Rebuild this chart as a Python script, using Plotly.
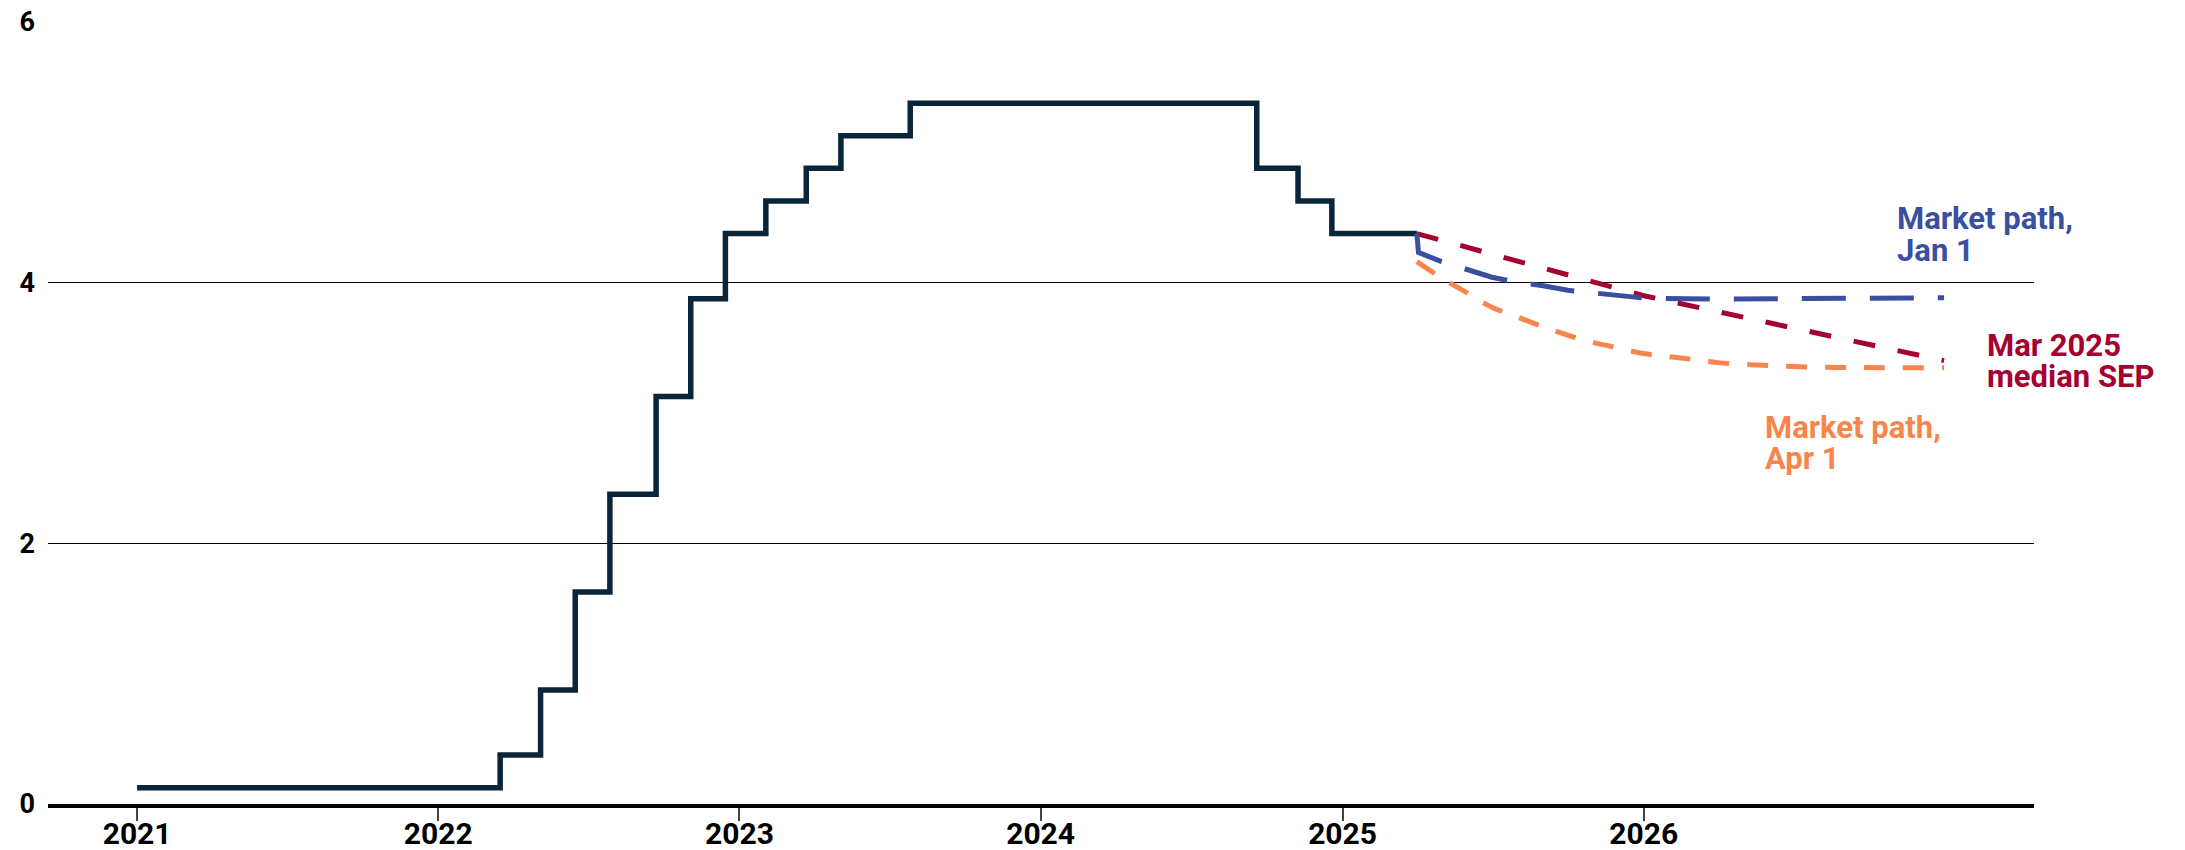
import plotly.graph_objects as go

# ---- Data ----
# Federal funds target range midpoint (step path)
hist_dates = ["2021-01-01", "2022-03-17", "2022-05-05", "2022-06-16", "2022-07-28",
              "2022-09-22", "2022-11-03", "2022-12-15", "2023-02-02", "2023-03-23",
              "2023-05-04", "2023-07-27", "2024-09-19", "2024-11-08", "2024-12-19",
              "2025-04-01"]
hist_values = [0.125, 0.375, 0.875, 1.625, 2.375, 3.125, 3.875, 4.375, 4.625, 4.875,
               5.125, 5.375, 4.875, 4.625, 4.375, 4.375]

# Market path, Jan 1
jan_dates = ["2025-04-01", "2025-04-03", "2025-05-01", "2025-06-01", "2025-07-01",
             "2025-08-01", "2025-09-01", "2025-10-01", "2025-11-01", "2025-12-01",
             "2026-01-01", "2026-04-01", "2026-07-01", "2026-10-01", "2026-12-31"]
jan_values = [4.375, 4.23, 4.16, 4.10, 4.04, 4.00, 3.975, 3.94, 3.92, 3.90,
              3.88, 3.872, 3.875, 3.88, 3.883]

# Mar 2025 median SEP
sep_dates = ["2025-04-01", "2025-12-31", "2026-12-31"]
sep_values = [4.375, 3.9, 3.4]

# Market path, Apr 1
apr_dates = ["2025-04-01", "2025-05-01", "2025-06-01", "2025-07-01", "2025-08-01",
             "2025-09-01", "2025-10-01", "2025-11-01", "2025-12-01", "2026-01-01",
             "2026-02-01", "2026-03-01", "2026-04-01", "2026-06-01", "2026-08-01",
             "2026-10-01", "2026-12-31"]
apr_values = [4.16, 4.035, 3.92, 3.81, 3.735, 3.66, 3.595, 3.54, 3.497, 3.455,
              3.43, 3.41, 3.385, 3.363, 3.35, 3.347, 3.346]

x_tick_vals = ["2021-01-01", "2022-01-01", "2023-01-01", "2024-01-01", "2025-01-01", "2026-01-01"]
x_tick_text = ["2021", "2022", "2023", "2024", "2025", "2026"]
y_tick_vals = [0, 2, 4, 6]

NAVY = "#0b2538"
BLUE = "#3b4f9f"
RED = "#a50030"
ORANGE = "#f8854c"
FONT = "Roboto"

fig = go.Figure()
fig.add_trace(go.Scatter(x=hist_dates, y=hist_values, mode="lines", line_shape="hv",
                         line=dict(color=NAVY, width=5.5), hoverinfo="skip"))
fig.add_trace(go.Scatter(x=apr_dates, y=apr_values, mode="lines", line_shape="spline",
                         line=dict(color=ORANGE, width=5, dash="21px,18px"), hoverinfo="skip"))
fig.add_trace(go.Scatter(x=sep_dates, y=sep_values, mode="lines",
                         line=dict(color=RED, width=5, dash="22px,23px"), hoverinfo="skip"))
fig.add_trace(go.Scatter(x=jan_dates, y=jan_values, mode="lines",
                         line=dict(color=BLUE, width=5, dash="44px,24px"), hoverinfo="skip"))

def label(text, xp, yv, color):
    fig.add_annotation(text=text, xref="paper", yref="y", x=xp, y=yv,
                       xanchor="left", yanchor="middle", showarrow=False, borderpad=0,
                       font=dict(family=FONT, size=31, color=color, weight="bold"))

label("Market path,", 0.9305, 4.494, BLUE)
label("Jan 1", 0.9305, 4.245, BLUE)
label("Mar 2025", 0.9758, 3.514, RED)
label("median SEP", 0.9758, 3.275, RED)
label("Market path,", 0.8642, 2.884, ORANGE)
label("Apr 1", 0.8642, 2.648, ORANGE)

fig.update_layout(
    width=2185, height=850,
    margin=dict(l=48, r=151, t=21, b=46, autoexpand=False),
    paper_bgcolor="white", plot_bgcolor="white",
    showlegend=False,
    font=dict(family=FONT, color="black"),
    xaxis=dict(
        type="date", range=["2020-09-15", "2027-04-19"], automargin=False,
        tickmode="array", tickvals=x_tick_vals, ticktext=x_tick_text,
        ticks="",
        minor=dict(tickmode="array", tickvals=x_tick_vals, ticks="outside",
                   ticklen=13, tickwidth=2, tickcolor="#444", showgrid=False),
        tickfont=dict(family=FONT, size=30, color="black", weight="bold"),
        showgrid=False, showline=True, linecolor="black", linewidth=3.5,
        zeroline=False,
    ),
    yaxis=dict(
        range=[0, 6.005], tickvals=y_tick_vals, automargin=False,
        ticks="", ticklabelstandoff=12,
        tickfont=dict(family=FONT, size=27, color="black", weight="bold"),
        showgrid=True, gridcolor="black", gridwidth=1.3,
        zeroline=False, showline=False,
    ),
)

fig.write_html("out.html", config={"displayModeBar": False},
               post_script="document.body.style.margin='0';")
